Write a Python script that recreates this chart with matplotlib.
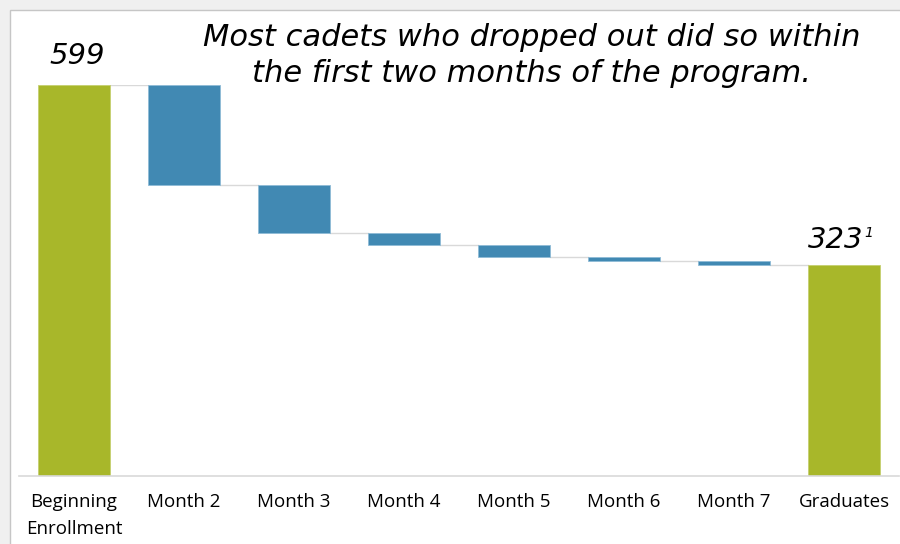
import matplotlib.pyplot as plt
from matplotlib.patches import Rectangle

# data
categories = ["Beginning\nEnrollment", "Month 2", "Month 3", "Month 4",
              "Month 5", "Month 6", "Month 7", "Graduates"]
beginning = 599
drops = [153, 73, 19, 18, 7, 6]
graduates = 323
title_lines = ["Most cadets who dropped out did so within",
               "the first two months of the program."]

green = "#a8b72a"
blue = "#4189b3"

plt.rcParams["font.family"] = ["Open Sans", "DejaVu Sans"]

fig = plt.figure(figsize=(9, 5.44), dpi=100)
fig.patch.set_facecolor("#f0f0f0")
fig.patches.append(Rectangle((10 / 900, -0.01), 1, (544 - 9.5) / 544 + 0.01,
                             transform=fig.transFigure, facecolor="white",
                             edgecolor="#c6c6c6", lw=1, zorder=-5))

ax = fig.add_axes([19 / 900, 68 / 544, 880 / 900, (476 - 85) / 544])
ax.set_facecolor("none")

width = 0.655
ax.bar(0, beginning, width, color=green, edgecolor="#c5d070", lw=0.6)
level = beginning
levels = [beginning]
for i, d in enumerate(drops, start=1):
    ax.bar(i, d, width, bottom=level - d, color=blue, edgecolor="#8fbbd6", lw=0.6)
    level -= d
    levels.append(level)
ax.bar(len(categories) - 1, graduates, width, color=green, edgecolor="#c5d070", lw=0.6)

# connectors
for i, lv in enumerate(levels):
    ax.plot([i + width / 2, i + 1 - width / 2], [lv, lv], color="#d9d9d9", lw=1, zorder=0)

ax.set_xlim(-0.5, 7.5)
ax.set_ylim(0, 599)
ax.set_yticks([])
ax.set_xticks(range(len(categories)))
ax.set_xticklabels(categories, fontsize=13.5, linespacing=1.68, va="top")
ax.tick_params(axis="x", length=0, pad=12)
for s in ["top", "right", "left"]:
    ax.spines[s].set_visible(False)
ax.spines["bottom"].set_color("#d9d9d9")
ax.spines["bottom"].set_linewidth(1.2)

num_font = dict(fontsize=21, style="italic", family="DejaVu Sans")
ax.annotate(str(beginning), (0, beginning), xytext=(2, 15), textcoords="offset points",
            ha="center", va="baseline", annotation_clip=False, **num_font)
ax.annotate(str(graduates), (7, graduates), xytext=(-6, 12), textcoords="offset points",
            ha="center", va="baseline", annotation_clip=False, **num_font)
ax.annotate("1", (7, graduates), xytext=(14.5, 20), textcoords="offset points",
            ha="left", va="baseline", fontsize=10, style="italic",
            family="DejaVu Sans", annotation_clip=False)

for k, line in enumerate(title_lines):
    fig.text(531.5 / 900, 1 - (46 + 36.5 * k) / 544, line, ha="center", va="baseline",
             fontsize=22, style="italic", family="DejaVu Sans")

fig.savefig("out.png", dpi=100)
